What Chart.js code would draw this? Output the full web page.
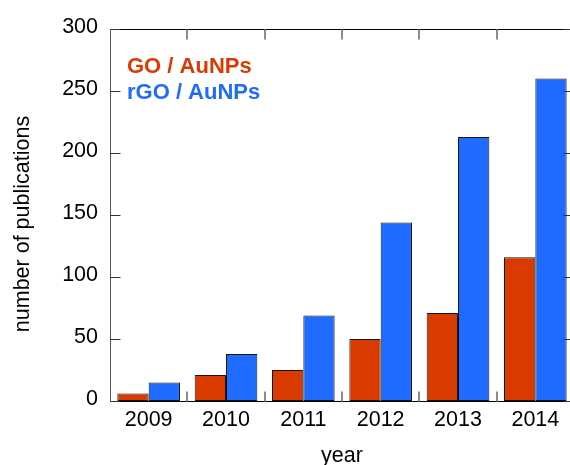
<!DOCTYPE html>
<html>
<head>
<meta charset="utf-8">
<script src="https://cdn.jsdelivr.net/npm/chart.js@4/dist/chart.umd.min.js"></script>
<style>
  html, body { margin: 0; padding: 0; background: #fff; overflow: hidden; }
  #wrap { width: 574px; height: 465px; }
</style>
</head>
<body>
<div id="wrap"><canvas id="c" width="574" height="465"></canvas></div>
<script>
// Publications per year on graphene oxide / gold nanoparticle composites
const years = ['2009', '2010', '2011', '2012', '2013', '2014'];
const goAuNPs = [6, 21, 25, 50, 71, 116];
const rgoAuNPs = [15, 38, 69, 144, 213, 260];
const seriesNames = ['GO / AuNPs', 'rGO / AuNPs'];
const yTicks = [0, 50, 100, 150, 200, 250, 300];
const xTitle = 'year';
const yTitle = 'number of publications';

const FONT = "'Liberation Sans', Arial, Helvetica, sans-serif";
const RED = '#D93A00';
const BLUE = '#1F6BFF';

// Box frame with inward tick marks on all four sides
const framePlugin = {
  id: 'frame',
  afterDatasetsDraw(chart) {
    const { ctx, chartArea: a, scales } = chart;
    const L = a.left + 0.5, R = a.right - 0.5, T = a.top + 0.5, B = a.bottom + 0.5;
    ctx.save();
    ctx.lineWidth = 1;
    ctx.strokeStyle = '#000';
    ctx.beginPath();
    ctx.moveTo(L, T); ctx.lineTo(R, T);
    ctx.moveTo(L, B); ctx.lineTo(R, B);
    ctx.moveTo(R, T); ctx.lineTo(R, B);
    ctx.stroke();
    ctx.strokeStyle = '#555';
    ctx.beginPath();
    ctx.moveTo(L, T); ctx.lineTo(L, B);
    ctx.stroke();

    // y ticks, left and right
    const y = scales.y;
    ctx.strokeStyle = '#333';
    ctx.beginPath();
    y.ticks.forEach(t => {
      const py = Math.round(y.getPixelForValue(t.value)) + 0.5;
      ctx.moveTo(L, py); ctx.lineTo(L + 10, py);
      ctx.moveTo(R, py); ctx.lineTo(R - 10, py);
    });
    ctx.stroke();

    // x ticks at category boundaries, bottom and top
    const x = scales.x;
    ctx.strokeStyle = '#8c8c8c';
    ctx.lineWidth = 2;
    ctx.beginPath();
    for (let i = 0; i < years.length - 1; i++) {
      const px = Math.round((x.getPixelForTick(i) + x.getPixelForTick(i + 1)) / 2);
      ctx.moveTo(px, B); ctx.lineTo(px, B - 10);
      ctx.moveTo(px, T); ctx.lineTo(px, T + 10);
    }
    ctx.stroke();
    ctx.restore();
  }
};

// Text-only legend in the upper left of the plot, plus the vertical axis title
const textLegend = {
  id: 'textLegend',
  afterDraw(chart) {
    const { ctx, chartArea: a } = chart;
    ctx.save();
    ctx.font = 'bold 22px ' + FONT;
    ctx.textAlign = 'left';
    ctx.textBaseline = 'alphabetic';
    chart.data.datasets.forEach((ds, i) => {
      ctx.fillStyle = ds.backgroundColor;
      ctx.fillText(ds.label, a.left + 17, a.top + 44 + i * 26);
    });
    ctx.restore();

    ctx.save();
    ctx.font = '21.5px ' + FONT;
    ctx.fillStyle = '#000';
    ctx.textAlign = 'center';
    ctx.textBaseline = 'middle';
    ctx.translate(23, (a.top + a.bottom) / 2 + 9);
    ctx.rotate(-Math.PI / 2);
    ctx.fillText(yTitle, 0, 0);
    ctx.restore();
  }
};

new Chart(document.getElementById('c'), {
  type: 'bar',
  data: {
    labels: years,
    datasets: [
      { label: seriesNames[0], data: goAuNPs, backgroundColor: RED,
        borderColor: '#151515', borderWidth: 1, borderSkipped: false },
      { label: seriesNames[1], data: rgoAuNPs, backgroundColor: BLUE,
        borderColor: '#151515', borderWidth: 1, borderSkipped: false }
    ]
  },
  options: {
    responsive: false,
    devicePixelRatio: 1,
    animation: false,
    events: [],
    layout: { padding: { top: 29, right: 0, bottom: 0, left: 0 } },
    datasets: { bar: { categoryPercentage: 0.81, barPercentage: 1 } },
    plugins: { legend: { display: false }, tooltip: { enabled: false } },
    scales: {
      x: {
        grid: { display: false, drawTicks: false },
        border: { display: false },
        ticks: { color: '#000', font: { family: FONT, size: 21.5 }, padding: 6, maxRotation: 0 },
        title: { display: true, text: xTitle, color: '#000',
                 font: { family: FONT, size: 21.5 }, padding: { top: 0, bottom: -4 } },
        afterFit(s) { s.height = 64; }
      },
      y: {
        min: 0,
        max: 300,
        grid: { display: false, drawTicks: false },
        border: { display: false },
        afterBuildTicks(s) { s.ticks = yTicks.map(v => ({ value: v })); },
        ticks: { color: '#000', font: { family: FONT, size: 21.5 }, padding: 12, labelOffset: -2 },
        title: { display: false },
        afterFit(s) { s.width = 110; }
      }
    }
  },
  plugins: [framePlugin, textLegend]
});
</script>
</body>
</html>
